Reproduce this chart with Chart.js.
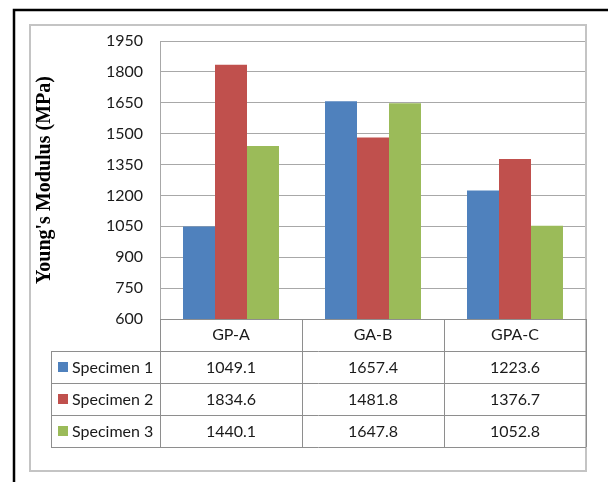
<!DOCTYPE html>
<html>
<head>
<meta charset="utf-8">
<script src="https://cdn.jsdelivr.net/npm/chart.js@4"></script>
<style>
  html, body { margin: 0; padding: 0; background: #ffffff; }
  #wrap { position: relative; width: 608px; height: 482px; }
  canvas { display: block; }
</style>
</head>
<body>
<div id="wrap"><canvas id="c" width="608" height="482"></canvas></div>
<script>
// Young's modulus of three specimens per material
const categories = ['GP-A', 'GA-B', 'GPA-C'];
const seriesNames = ['Specimen 1', 'Specimen 2', 'Specimen 3'];
const specimen1 = [1049.1, 1657.4, 1223.6];
const specimen2 = [1834.6, 1481.8, 1376.7];
const specimen3 = [1440.1, 1647.8, 1052.8];
const seriesColors = ['#4F81BD', '#C0504D', '#9BBB59'];
const yTicks = [600, 750, 900, 1050, 1200, 1350, 1500, 1650, 1800, 1950];

const seriesValues = [specimen1, specimen2, specimen3];
const fmt = v => v.toFixed(1);

const TEXT = '#1a1a1a';
const LINE = '#8e8e8e';
const FONT_FAMILY = 'Lato, "Open Sans", sans-serif';
const TABLE_FONT = '16px ' + FONT_FAMILY;

// Frames plus the data table under the plot
const tablePlugin = {
  id: 'dataTable',
  afterDraw(chart) {
    const ctx = chart.ctx;
    const x = chart.scales.x;
    const area = chart.chartArea;
    const n = categories.length;
    const colW = (area.right - area.left) / n;
    const rowH = 32;
    const top = area.bottom;
    const tableLeft = 51;
    const rows = [top, top + rowH, top + 2 * rowH, top + 3 * rowH, top + 4 * rowH];

    ctx.save();
    // outer black frame
    ctx.strokeStyle = '#000000';
    ctx.lineWidth = 2.5;
    ctx.beginPath();
    ctx.moveTo(14, 490);
    ctx.lineTo(14, 10);
    ctx.lineTo(620, 10);
    ctx.stroke();

    // inner grey frame
    ctx.strokeStyle = '#c4c4c4';
    ctx.lineWidth = 2;
    ctx.strokeRect(30, 25, 556, 446);

    // table grid
    ctx.strokeStyle = LINE;
    ctx.lineWidth = 1;
    ctx.beginPath();
    ctx.moveTo(area.left, rows[0] + 0.5); ctx.lineTo(area.right, rows[0] + 0.5);
    for (let r = 1; r < rows.length; r++) {
      ctx.moveTo(tableLeft, Math.round(rows[r]) + 0.5);
      ctx.lineTo(area.right, Math.round(rows[r]) + 0.5);
    }
    ctx.moveTo(tableLeft + 0.5, rows[1]); ctx.lineTo(tableLeft + 0.5, rows[4]);
    for (let i = 0; i <= n; i++) {
      const cx = Math.round(area.left + i * colW) + 0.5;
      ctx.moveTo(cx, rows[0]); ctx.lineTo(cx, rows[4]);
    }
    ctx.stroke();

    // header and values
    ctx.fillStyle = TEXT;
    ctx.font = TABLE_FONT;
    ctx.textAlign = 'center';
    ctx.textBaseline = 'middle';
    categories.forEach((c, i) => {
      const cx = x.getPixelForValue(i);
      ctx.fillText(c, cx, rows[0] + rowH / 2);
      seriesValues.forEach((vals, s) => {
        ctx.fillText(fmt(vals[i]), cx, rows[s + 1] + rowH / 2 + 1);
      });
    });

    // legend keys
    ctx.textAlign = 'left';
    seriesNames.forEach((name, s) => {
      const cy = rows[s + 1] + rowH / 2;
      ctx.fillStyle = seriesColors[s];
      ctx.fillRect(58, cy - 5, 10, 10);
      ctx.fillStyle = TEXT;
      ctx.fillText(name, 72, cy + 1);
    });
    ctx.restore();
  }
};

new Chart(document.getElementById('c'), {
  type: 'bar',
  data: {
    labels: categories,
    datasets: seriesNames.map((name, s) => ({
      label: name,
      data: seriesValues[s],
      backgroundColor: seriesColors[s],
      borderWidth: 0,
      barPercentage: 1,
      categoryPercentage: 0.676
    }))
  },
  options: {
    responsive: false,
    animation: false,
    events: [],
    layout: { padding: { left: 30, top: 41, right: 22, bottom: 163 } },
    plugins: { legend: { display: false }, tooltip: { enabled: false } },
    scales: {
      x: { display: false },
      y: {
        min: 600,
        max: 1950,
        afterBuildTicks: scale => { scale.ticks = yTicks.map(v => ({ value: v })); },
        afterFit: scale => { scale.width = 130; },
        grid: { color: '#a8a8a8', lineWidth: 1, drawTicks: false },
        border: { color: '#a8a8a8', width: 1 },
        ticks: {
          padding: 17,
          color: TEXT,
          font: { family: FONT_FAMILY, size: 16 },
          callback: v => String(v)
        },
        title: {
          display: true,
          text: "Young's Modulus (MPa)",
          color: '#000000',
          padding: { top: 3, bottom: 0 },
          font: { family: '"Liberation Serif", "Times New Roman", serif', size: 20, weight: 'bold' }
        }
      }
    }
  },
  plugins: [tablePlugin]
});
</script>
</body>
</html>
